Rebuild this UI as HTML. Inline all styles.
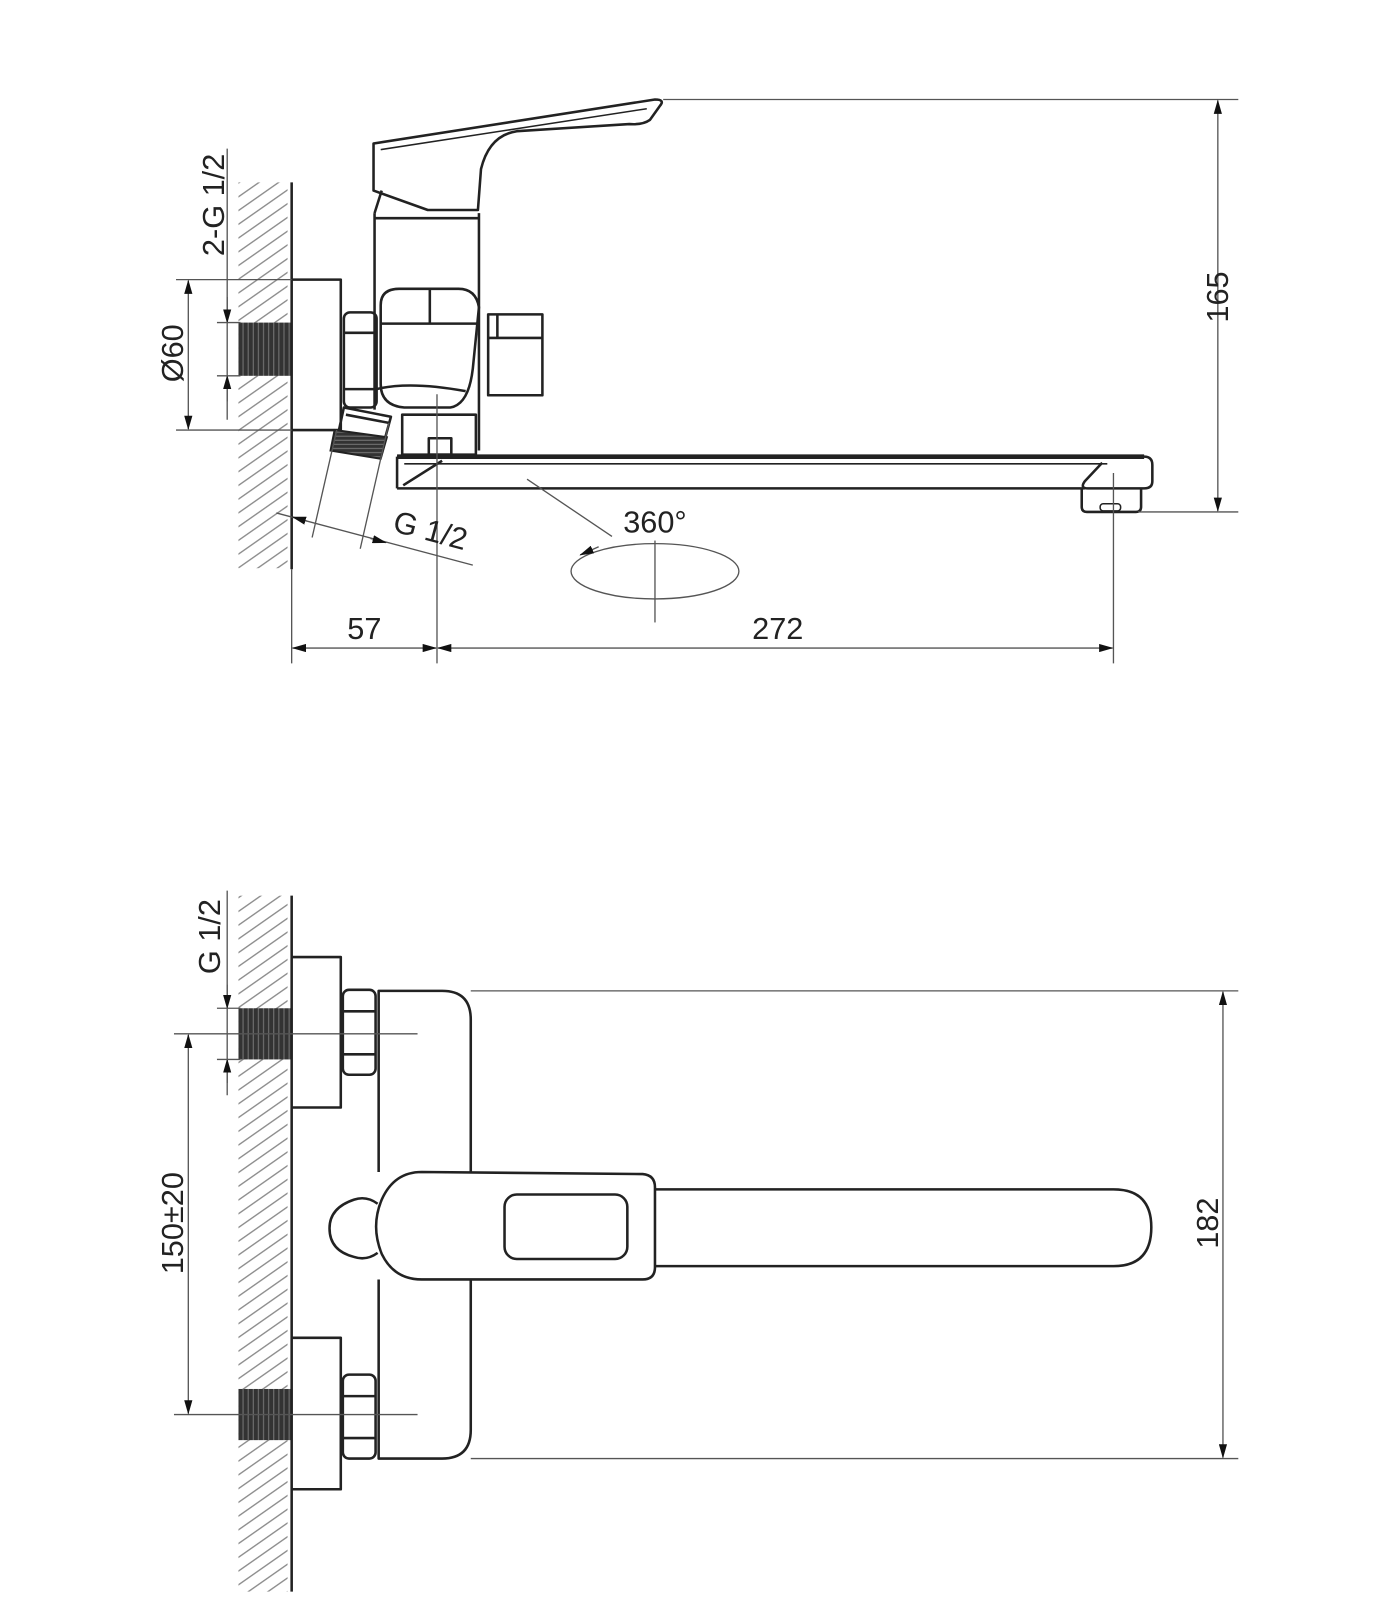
<!DOCTYPE html>
<html><head><meta charset="utf-8"><style>
html,body{margin:0;padding:0;background:#fff;width:1400px;height:1600px;overflow:hidden}
svg{display:block}
text{font-family:"Liberation Sans","DejaVu Sans",sans-serif;fill:#222}
</style></head><body>
<svg width="1400" height="1600" viewBox="0 0 1368 1563" xmlns="http://www.w3.org/2000/svg">
<defs>
<marker id="a" markerUnits="userSpaceOnUse" markerWidth="14" markerHeight="8" refX="13" refY="4" orient="auto-start-reverse"><path d="M0,0 L14,4 L0,8 z" fill="#111"/></marker>
<pattern id="h" width="11" height="11" patternUnits="userSpaceOnUse" patternTransform="rotate(-35)"><line x1="0" y1="5" x2="11" y2="5" stroke="#888" stroke-width="1.3"/></pattern>
<pattern id="t" width="5" height="10" patternUnits="userSpaceOnUse"><rect width="5" height="10" fill="#333"/><line x1="2.5" y1="0" x2="2.5" y2="10" stroke="#777" stroke-width="1"/></pattern>
<pattern id="t2" width="10" height="4" patternUnits="userSpaceOnUse"><rect width="10" height="4" fill="#333"/><line x1="0" y1="2" x2="10" y2="2" stroke="#777" stroke-width="1"/></pattern>
</defs>

<!-- ================= TOP VIEW ================= -->
<g>
<rect x="233" y="178" width="48" height="377" fill="url(#h)"/>
<line x1="285" y1="178" x2="285" y2="556" stroke="#222" stroke-width="2.5"/>
<rect x="233" y="315" width="51" height="52" fill="url(#t)"/>
</g>
<g fill="none" stroke="#222" stroke-width="2.5" stroke-linejoin="round">
<!-- flange -->
<polyline points="285,273 333,273 333,420 285,420"/>
<!-- nut -->
<rect x="336" y="305" width="32" height="93" rx="6"/>
<line x1="336" y1="325" x2="368" y2="325"/><line x1="336" y1="380" x2="368" y2="380"/>
<!-- body -->
<line x1="366" y1="208" x2="366" y2="400"/>
<line x1="468" y1="208" x2="468" y2="440"/>
<line x1="366" y1="213" x2="468" y2="213"/>
<!-- lever -->
<path d="M365,140 L640,97 Q650,97 645,103 L635,117 Q628,122 615,121 L505,128 Q478,132 470,165 L467,205 L418,205 L365,186 Z"/>
<line x1="372" y1="146" x2="632" y2="106" stroke-width="1.5"/>
<line x1="373" y1="186" x2="366" y2="208"/>
<!-- cartridge -->
<path d="M372,312 L372,298 Q372,282 390,282 L448,282 Q465,282 468,300 L462,360 Q458,395 440,398 L395,398 Q372,396 372,375 Z"/>
<line x1="372" y1="316" x2="466" y2="316"/><line x1="420" y1="282" x2="420" y2="316"/>
<path d="M368,380 Q400,372 455,382"/>
<!-- right box -->
<rect x="477" y="307" width="53" height="79"/>
<line x1="477" y1="330" x2="530" y2="330"/><line x1="486" y1="307" x2="486" y2="330"/>
<!-- lower block -->
<rect x="393" y="405" width="72" height="39"/>
<rect x="419" y="428" width="22" height="16"/>
<!-- nozzle -->
<polygon points="336,398 382,407 376,429 331,421"/>
<line x1="338" y1="405" x2="380" y2="413"/>
<!-- spout -->
<path d="M388,446 L1118,446 Q1126,446 1126,454 L1126,470 Q1126,477 1118,477 L1063,477 Q1055,477 1060,470 L1077,452"/>
<line x1="388" y1="446" x2="1118" y2="446" stroke-width="4.5"/>
<line x1="395" y1="453" x2="1082" y2="453" stroke-width="1.5"/>
<line x1="388" y1="446" x2="388" y2="477"/>
<line x1="388" y1="477" x2="1060" y2="477"/>
<line x1="394" y1="474" x2="432" y2="450"/>
<path d="M1057,477 L1057,495 Q1057,500 1062,500 L1110,500 Q1115,500 1115,495 L1115,477"/>
<rect x="1075" y="492" width="20" height="7" rx="3" stroke-width="1.5"/>
</g>
<polygon points="327,420 378,427 372,448 323,440" fill="url(#t2)" stroke="#222" stroke-width="2"/>
<g stroke="#555" stroke-width="1.3" fill="none">
<!-- 2-G 1/2 -->
<line x1="222" y1="145" x2="222" y2="410"/>
<line x1="222" y1="290" x2="222" y2="315" marker-end="url(#a)"/>
<line x1="222" y1="392" x2="222" y2="367" marker-end="url(#a)"/>
<line x1="212" y1="315" x2="235" y2="315"/><line x1="212" y1="367" x2="235" y2="367"/>
<!-- Ø60 -->
<line x1="172" y1="273" x2="285" y2="273"/><line x1="172" y1="420" x2="285" y2="420"/>
<line x1="184" y1="274" x2="184" y2="419" marker-start="url(#a)" marker-end="url(#a)"/>
<!-- centerlines -->
<line x1="427" y1="385" x2="427" y2="648"/>
<line x1="1088" y1="462" x2="1088" y2="648"/>
<line x1="285" y1="556" x2="285" y2="648"/>
<!-- 165 -->
<line x1="648" y1="97" x2="1210" y2="97"/>
<line x1="1112" y1="500" x2="1210" y2="500"/>
<line x1="1190" y1="98" x2="1190" y2="499" marker-start="url(#a)" marker-end="url(#a)"/>
<!-- 57 / 272 -->
<line x1="286" y1="633" x2="426" y2="633" marker-start="url(#a)" marker-end="url(#a)"/>
<line x1="428" y1="633" x2="1087" y2="633" marker-start="url(#a)" marker-end="url(#a)"/>
<!-- G 1/2 angled -->
<line x1="329" y1="420" x2="305" y2="525"/>
<line x1="380" y1="413" x2="352" y2="536"/>
<line x1="270" y1="501" x2="462" y2="552"/>
<line x1="300" y1="509" x2="286" y2="505" marker-end="url(#a)"/>
<line x1="362" y1="526" x2="377" y2="530" marker-end="url(#a)"/>
<!-- 360 -->
<line x1="515" y1="468" x2="598" y2="524"/>
<ellipse cx="640" cy="558" rx="82" ry="27"/>
<line x1="640" y1="528" x2="640" y2="608"/>
<line x1="585" y1="534" x2="567" y2="542" marker-end="url(#a)"/>
</g>
<text x="0" y="0" font-size="30" text-anchor="middle" transform="translate(219,200) rotate(-90)">2-G 1/2</text>
<text x="0" y="0" font-size="30" text-anchor="middle" transform="translate(179,345) rotate(-90)">Ø60</text>
<text x="0" y="0" font-size="30" text-anchor="middle" transform="translate(1200,290) rotate(-90)">165</text>
<text x="356" y="624" font-size="30" text-anchor="middle">57</text>
<text x="760" y="624" font-size="30" text-anchor="middle">272</text>
<text x="640" y="520" font-size="30" text-anchor="middle">360°</text>
<text x="0" y="0" font-size="30" text-anchor="middle" transform="translate(418,528) rotate(15)">G 1/2</text>

<!-- ================= BOTTOM VIEW ================= -->
<rect x="233" y="875" width="48" height="680" fill="url(#h)"/>
<line x1="285" y1="875" x2="285" y2="1555" stroke="#222" stroke-width="2.5"/>
<rect x="233" y="985" width="51" height="50" fill="url(#t)"/>
<rect x="233" y="1357" width="51" height="50" fill="url(#t)"/>
<g fill="none" stroke="#222" stroke-width="2.5" stroke-linejoin="round">
<polyline points="285,935 333,935 333,1082 285,1082"/>
<polyline points="285,1307 333,1307 333,1455 285,1455"/>
<rect x="335" y="967" width="32" height="83" rx="6"/>
<line x1="335" y1="988" x2="367" y2="988"/><line x1="335" y1="1030" x2="367" y2="1030"/>
<rect x="335" y="1343" width="32" height="82" rx="6"/>
<line x1="335" y1="1364" x2="367" y2="1364"/><line x1="335" y1="1405" x2="367" y2="1405"/>
<!-- body -->
<path d="M370,1145 L370,968 L432,968 Q460,968 460,996 L460,1145"/>
<path d="M370,1250 L370,1425 L432,1425 Q460,1425 460,1397 L460,1250"/>
<!-- cap -->
<path d="M369,1176 Q358,1168 346,1172 Q322,1180 322,1200 Q322,1222 346,1228 Q358,1232 369,1224"/>
<!-- handle head -->
<path d="M412,1145 L628,1147 Q640,1148 640,1160 L640,1238 Q640,1250 628,1250 L412,1250 Q385,1250 373,1225 Q362,1198 373,1172 Q385,1145 412,1145 Z"/>
<rect x="493" y="1167" width="120" height="63" rx="12"/>
<!-- lever -->
<path d="M640,1162 L1088,1162 Q1125,1162 1125,1199 Q1125,1237 1088,1237 L640,1237"/>
</g>
<g stroke="#555" stroke-width="1.3" fill="none">
<line x1="170" y1="1010" x2="408" y2="1010"/>
<line x1="170" y1="1382" x2="408" y2="1382"/>
<line x1="222" y1="870" x2="222" y2="1070"/>
<line x1="222" y1="962" x2="222" y2="985" marker-end="url(#a)"/>
<line x1="222" y1="1058" x2="222" y2="1035" marker-end="url(#a)"/>
<line x1="212" y1="985" x2="235" y2="985"/><line x1="212" y1="1035" x2="235" y2="1035"/>
<line x1="184" y1="1011" x2="184" y2="1381" marker-start="url(#a)" marker-end="url(#a)"/>
<line x1="460" y1="968" x2="1210" y2="968"/>
<line x1="460" y1="1425" x2="1210" y2="1425"/>
<line x1="1195" y1="969" x2="1195" y2="1424" marker-start="url(#a)" marker-end="url(#a)"/>
</g>
<text x="0" y="0" font-size="30" text-anchor="middle" transform="translate(215,915) rotate(-90)">G 1/2</text>
<text x="0" y="0" font-size="30" text-anchor="middle" transform="translate(179,1195) rotate(-90)">150±20</text>
<text x="0" y="0" font-size="30" text-anchor="middle" transform="translate(1190,1195) rotate(-90)">182</text>
</svg>
</body></html>
